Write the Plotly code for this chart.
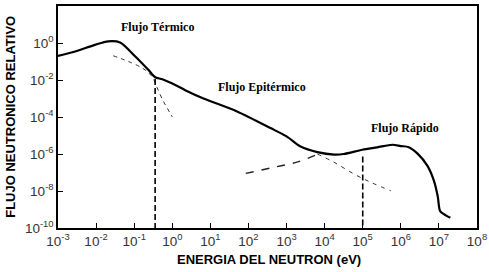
import plotly.graph_objects as go

# ---- data (log10 units) ----
curve_log_energy = [-3.0, -2.55, -2.03, -1.68, -1.37, -0.97, -0.63, -0.45, -0.26, 0.08,
                    0.34, 0.82, 1.7, 2.58, 3.0, 3.37, 3.81, 4.25, 4.5, 4.99,
                    5.38, 5.78, 6.0, 6.21, 6.44, 6.7, 6.87, 6.97, 7.03, 7.13, 7.3]
curve_log_flux = [-0.70, -0.46, -0.10, 0.09, 0.03, -0.73, -1.45, -1.85, -1.96, -2.27,
                  -2.55, -3.0, -3.7, -4.6, -5.05, -5.6, -5.9, -6.03, -6.0, -5.77,
                  -5.64, -5.5, -5.57, -5.63, -5.98, -6.64, -7.45, -8.3, -9.08, -9.25, -9.45]

thermal_ext_log_energy = [-1.55, -0.79, -0.53, -0.4, -0.26, -0.13, 0.0]
thermal_ext_log_flux = [-0.69, -1.35, -1.82, -2.4, -3.05, -3.53, -4.0]

fast_ext_log_energy = [1.93, 2.6, 3.29, 3.84]
fast_ext_log_flux = [-7.05, -6.75, -6.43, -6.0]

epi_ext_log_energy = [3.81, 4.25, 4.77, 5.21, 5.74]
epi_ext_log_flux = [-6.0, -6.45, -7.08, -7.53, -7.99]

divider_log_energy = [-0.45, 5.0]
divider_top_log_flux = [-1.95, -6.13]
axis_bottom_log_flux = -10

labels = ["Flujo Térmico", "Flujo Epitérmico", "Flujo Rápido"]
label_log_energy = [-0.40, 2.35, 6.11]
label_log_flux = [0.88, -2.36, -4.58]

x_title = "ENERGIA DEL NEUTRON (eV)"
y_title = "FLUJO NEUTRONICO RELATIVO"

x_tick_exponents = [-3, -2, -1, 0, 1, 2, 3, 4, 5, 6, 7, 8]
x_tick_labels = ["10<sup>-3</sup>", "10<sup>-2</sup>", "10<sup>-1</sup>", "10<sup>0</sup>",
                 "10<sup>1</sup>", "10<sup>2</sup>", "10<sup>3</sup>", "10<sup>4</sup>",
                 "10<sup>5</sup>", "10<sup>6</sup>", "10<sup>7</sup>", "10<sup>8</sup>"]
y_tick_exponents = [-10, -8, -6, -4, -2, 0, 2]
y_tick_labels = ["10<sup>-10</sup>", "10<sup>-8</sup>", "10<sup>-6</sup>", "10<sup>-4</sup>",
                 "10<sup>-2</sup>", "10<sup>0</sup>", "10<sup>2</sup>"]


def p(v):
    return [10.0 ** x for x in v]


fig = go.Figure()
fig.add_trace(go.Scatter(x=p(curve_log_energy), y=p(curve_log_flux), mode="lines",
                         line=dict(color="black", width=2.2, shape="spline", smoothing=0.8)))
fig.add_trace(go.Scatter(x=p(thermal_ext_log_energy), y=p(thermal_ext_log_flux), mode="lines",
                         line=dict(color="#333", width=1, dash="4px,4px", shape="spline")))
fig.add_trace(go.Scatter(x=p(fast_ext_log_energy), y=p(fast_ext_log_flux), mode="lines",
                         line=dict(color="#222", width=1.4, dash="8px,8px", shape="spline")))
fig.add_trace(go.Scatter(x=p(epi_ext_log_energy), y=p(epi_ext_log_flux), mode="lines",
                         line=dict(color="#333", width=1, dash="4px,5px", shape="spline")))
for le, lt in zip(divider_log_energy, divider_top_log_flux):
    fig.add_trace(go.Scatter(x=p([le, le]), y=p([lt, axis_bottom_log_flux]), mode="lines",
                             line=dict(color="black", width=1.6, dash="6px,3px")))

for t, lx, ly in zip(labels, label_log_energy, label_log_flux):
    fig.add_annotation(x=lx, y=ly, text="<b>" + t + "</b>", showarrow=False,
                       font=dict(family="Liberation Serif", size=12, color="black"))

titlefont = dict(family="Liberation Sans, Arial", size=13, color="black")
fig.add_annotation(xref="paper", yref="paper", x=0.503, y=-0.144, text="<b>" + x_title + "</b>",
                   showarrow=False, font=titlefont, xanchor="center", yanchor="middle")
fig.add_annotation(xref="paper", yref="paper", x=-0.115, y=0.5, text="<b>" + y_title + "</b>",
                   showarrow=False, font=titlefont, textangle=-90,
                   xanchor="center", yanchor="middle")

tickfont = dict(family="Liberation Sans, Arial", size=13.5, color="#333")
fig.update_xaxes(type="log", range=[-3, 8], tickmode="array", automargin=False,
                 tickvals=p(x_tick_exponents), ticktext=x_tick_labels,
                 showline=True, linecolor="black", linewidth=1.5, mirror=True,
                 ticks="inside", ticklen=5, tickcolor="black", tickfont=tickfont,
                 showgrid=False, zeroline=False)
fig.update_yaxes(type="log", range=[-10, 2], tickmode="array", automargin=False,
                 tickvals=p(y_tick_exponents), ticktext=y_tick_labels,
                 showline=True, linecolor="black", linewidth=1.5, mirror=True,
                 ticks="inside", ticklen=5, tickcolor="black", tickfont=tickfont,
                 showgrid=False, zeroline=False)

fig.update_layout(width=489, height=272, margin=dict(l=58, r=12, t=6, b=44),
                  showlegend=False, plot_bgcolor="white", paper_bgcolor="white")
fig.write_html("out.html")
